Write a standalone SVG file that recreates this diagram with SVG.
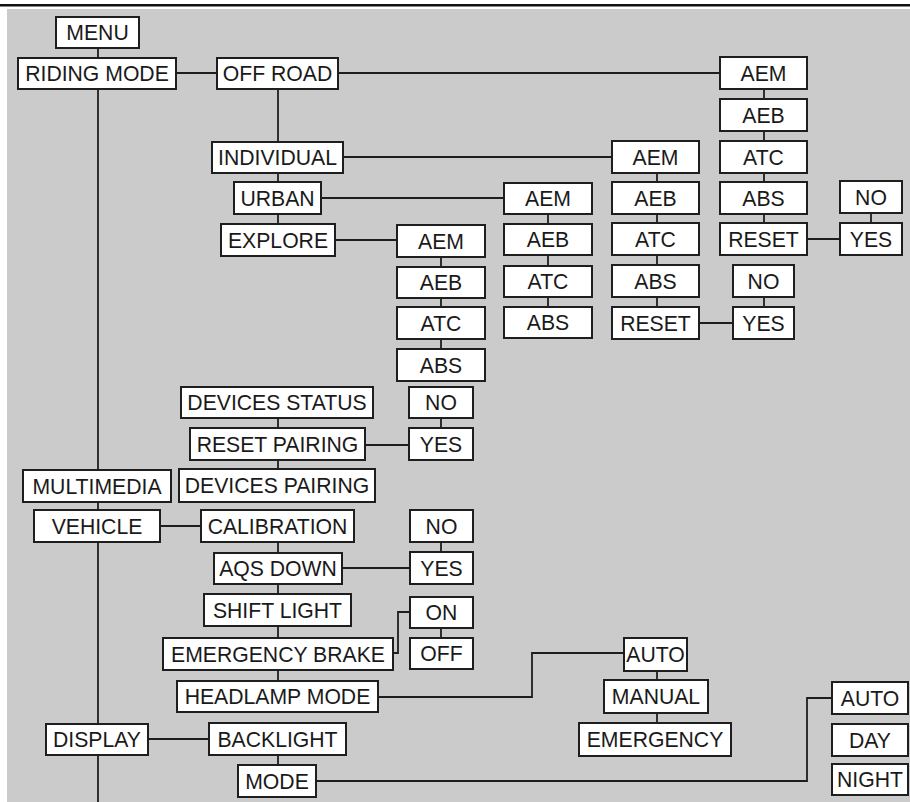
<svg xmlns="http://www.w3.org/2000/svg" width="910" height="802" viewBox="0 0 910 802">
<style>
.n rect{fill:#fff;stroke:#1e1e1e;stroke-width:2}
.n text{font-family:"Liberation Sans",Arial,sans-serif;font-size:21.2px;text-anchor:middle;fill:#1a1a1a}
#connectors path{fill:none;stroke:#1e1e1e;stroke-width:1.8}
</style>
<rect x="0" y="0" width="910" height="802" fill="#fff"/>
<rect x="0" y="4" width="910" height="2.5" fill="#111"/>
<rect x="7" y="9" width="903" height="793" fill="#cbcbcb"/>
<g id="connectors">
<path d="M98 48V58M98 89V802"/>
<path d="M176 73H217M338 73H720"/>
<path d="M278 89V224"/>
<path d="M343 157H612M321 198H504M335 240H397"/>
<path d="M764 89V223M871 213V223M807 239H840"/>
<path d="M657 173V307M764 297V307M699 323H733"/>
<path d="M548 214V307"/>
<path d="M441 257V349M441 418V428"/>
<path d="M278 418V469M365 445H409"/>
<path d="M160 526H201M278 542V681M441 542V552M342 568H410"/>
<path d="M441 628V638M393 653H398V612H410"/>
<path d="M378 697H532V653H624M657 671V723"/>
<path d="M148 739H209M278 755V765M316 781H807V698H832"/>
</g>
<g id="menu" class="n"><rect x="56" y="17" width="83" height="31"/><text x="97.5" y="40">MENU</text></g>
<g id="riding-mode" class="n"><rect x="18" y="58" width="158" height="31"/><text x="97" y="81">RIDING MODE</text></g>
<g id="off-road" class="n"><rect x="217" y="58" width="121" height="31"/><text x="277.5" y="81">OFF ROAD</text></g>
<g id="individual" class="n"><rect x="212" y="142" width="131" height="31"/><text x="277.5" y="165">INDIVIDUAL</text></g>
<g id="urban" class="n"><rect x="234" y="182" width="87" height="32"/><text x="277.5" y="205.5">URBAN</text></g>
<g id="explore" class="n"><rect x="221" y="224" width="114" height="32"/><text x="278" y="247.5">EXPLORE</text></g>
<g id="or-aem" class="n"><rect x="720" y="57" width="87" height="32"/><text x="763.5" y="80.5">AEM</text></g>
<g id="or-aeb" class="n"><rect x="720" y="99" width="87" height="32"/><text x="763.5" y="122.5">AEB</text></g>
<g id="or-atc" class="n"><rect x="720" y="141" width="87" height="32"/><text x="763.5" y="164.5">ATC</text></g>
<g id="or-abs" class="n"><rect x="720" y="182" width="87" height="32"/><text x="763.5" y="205.5">ABS</text></g>
<g id="or-reset" class="n"><rect x="720" y="223" width="87" height="32"/><text x="763.5" y="246.5">RESET</text></g>
<g id="or-no" class="n"><rect x="840" y="181" width="62" height="32"/><text x="871" y="204.5">NO</text></g>
<g id="or-yes" class="n"><rect x="840" y="223" width="62" height="32"/><text x="871" y="246.5">YES</text></g>
<g id="in-aem" class="n"><rect x="612" y="141" width="87" height="32"/><text x="655.5" y="164.5">AEM</text></g>
<g id="in-aeb" class="n"><rect x="612" y="182" width="87" height="32"/><text x="655.5" y="205.5">AEB</text></g>
<g id="in-atc" class="n"><rect x="612" y="223" width="87" height="32"/><text x="655.5" y="246.5">ATC</text></g>
<g id="in-abs" class="n"><rect x="612" y="265" width="87" height="32"/><text x="655.5" y="288.5">ABS</text></g>
<g id="in-reset" class="n"><rect x="612" y="307" width="87" height="32"/><text x="655.5" y="330.5">RESET</text></g>
<g id="in-no" class="n"><rect x="733" y="265" width="61" height="32"/><text x="763.5" y="288.5">NO</text></g>
<g id="in-yes" class="n"><rect x="733" y="307" width="61" height="32"/><text x="763.5" y="330.5">YES</text></g>
<g id="ur-aem" class="n"><rect x="504" y="183" width="88" height="31"/><text x="548" y="206">AEM</text></g>
<g id="ur-aeb" class="n"><rect x="504" y="224" width="88" height="31"/><text x="548" y="247">AEB</text></g>
<g id="ur-atc" class="n"><rect x="504" y="266" width="88" height="31"/><text x="548" y="289">ATC</text></g>
<g id="ur-abs" class="n"><rect x="504" y="307" width="88" height="31"/><text x="548" y="330">ABS</text></g>
<g id="ex-aem" class="n"><rect x="397" y="225" width="88" height="32"/><text x="441" y="248.5">AEM</text></g>
<g id="ex-aeb" class="n"><rect x="397" y="267" width="88" height="31"/><text x="441" y="290">AEB</text></g>
<g id="ex-atc" class="n"><rect x="397" y="307" width="88" height="32"/><text x="441" y="330.5">ATC</text></g>
<g id="ex-abs" class="n"><rect x="397" y="349" width="88" height="32"/><text x="441" y="372.5">ABS</text></g>
<g id="pair-no" class="n"><rect x="409" y="387" width="64" height="31"/><text x="441" y="410">NO</text></g>
<g id="pair-yes" class="n"><rect x="409" y="428" width="64" height="32"/><text x="441" y="451.5">YES</text></g>
<g id="devices-status" class="n"><rect x="181" y="387" width="192" height="31"/><text x="277" y="410">DEVICES STATUS</text></g>
<g id="reset-pairing" class="n"><rect x="190" y="428" width="175" height="32"/><text x="277.5" y="451.5">RESET PAIRING</text></g>
<g id="devices-pairing" class="n"><rect x="179" y="469" width="196" height="33"/><text x="277" y="493">DEVICES PAIRING</text></g>
<g id="multimedia" class="n"><rect x="23" y="470" width="148" height="32"/><text x="97" y="493.5">MULTIMEDIA</text></g>
<g id="vehicle" class="n"><rect x="34" y="510" width="126" height="32"/><text x="97" y="533.5">VEHICLE</text></g>
<g id="calibration" class="n"><rect x="201" y="510" width="153" height="32"/><text x="277.5" y="533.5">CALIBRATION</text></g>
<g id="aqs-no" class="n"><rect x="410" y="510" width="63" height="32"/><text x="441.5" y="533.5">NO</text></g>
<g id="aqs-yes" class="n"><rect x="410" y="552" width="63" height="32"/><text x="441.5" y="575.5">YES</text></g>
<g id="aqs-down" class="n"><rect x="214" y="553" width="128" height="31"/><text x="278" y="576">AQS DOWN</text></g>
<g id="shift-light" class="n"><rect x="204" y="594" width="147" height="32"/><text x="277.5" y="617.5">SHIFT LIGHT</text></g>
<g id="on" class="n"><rect x="410" y="597" width="63" height="31"/><text x="441.5" y="620">ON</text></g>
<g id="off" class="n"><rect x="410" y="638" width="63" height="31"/><text x="441.5" y="661">OFF</text></g>
<g id="emergency-brake" class="n"><rect x="163" y="638" width="230" height="32"/><text x="278" y="661.5">EMERGENCY BRAKE</text></g>
<g id="headlamp-mode" class="n"><rect x="177" y="681" width="201" height="31"/><text x="277.5" y="704">HEADLAMP MODE</text></g>
<g id="hl-auto" class="n"><rect x="624" y="638" width="63" height="33"/><text x="655.5" y="662">AUTO</text></g>
<g id="hl-manual" class="n"><rect x="604" y="680" width="104" height="33"/><text x="656" y="704">MANUAL</text></g>
<g id="hl-emergency" class="n"><rect x="579" y="723" width="152" height="33"/><text x="655" y="747">EMERGENCY</text></g>
<g id="display" class="n"><rect x="46" y="724" width="102" height="31"/><text x="97" y="747">DISPLAY</text></g>
<g id="backlight" class="n"><rect x="209" y="723" width="137" height="32"/><text x="277.5" y="746.5">BACKLIGHT</text></g>
<g id="mode" class="n"><rect x="238" y="765" width="78" height="32"/><text x="277" y="788.5">MODE</text></g>
<g id="md-auto" class="n"><rect x="832" y="682" width="76" height="32"/><text x="870" y="705.5">AUTO</text></g>
<g id="md-day" class="n"><rect x="832" y="724" width="76" height="32"/><text x="870" y="747.5">DAY</text></g>
<g id="md-night" class="n"><rect x="832" y="764" width="76" height="31"/><text x="870" y="787">NIGHT</text></g>
</svg>
